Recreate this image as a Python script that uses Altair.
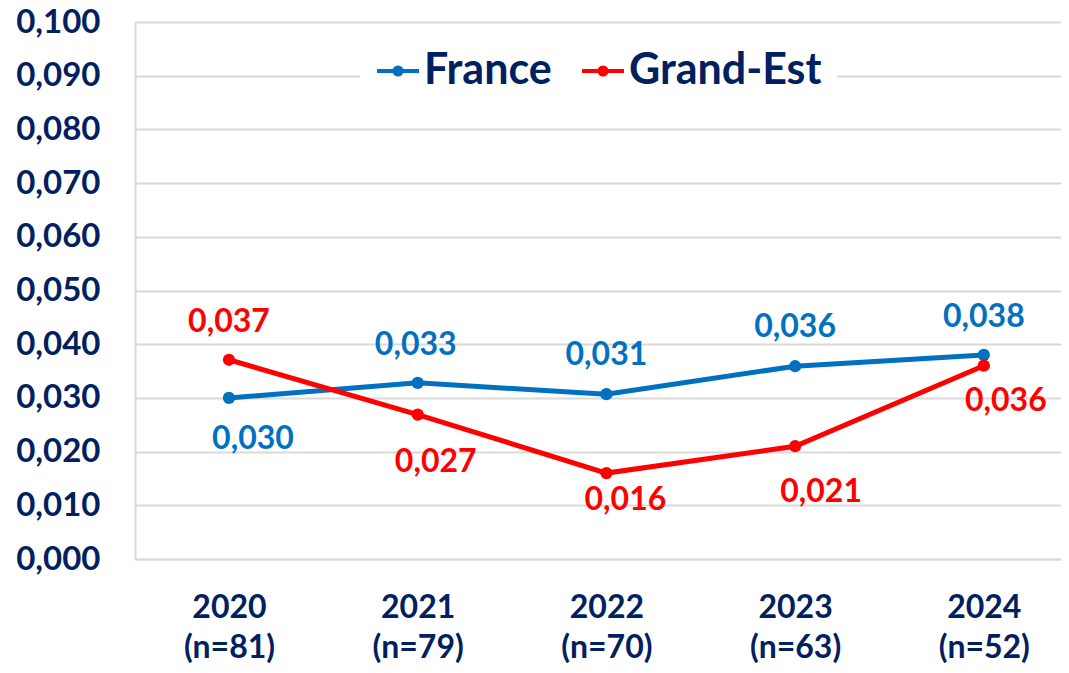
import altair as alt
import pandas as pd

years = [2020, 2021, 2022, 2023, 2024]
n_counts = ["(n=81)", "(n=79)", "(n=70)", "(n=63)", "(n=52)"]
france = [0.0300, 0.0328, 0.0307, 0.0359, 0.0380]
grand_est = [0.0371, 0.0269, 0.0160, 0.0210, 0.0360]
series_names = ["France", "Grand-Est"]
series_colors = ["#0070C0", "#FF0000"]
y_ticks = [i / 100 for i in range(11)]

# label offsets (pixels) relative to each point
france_dx = [24, -2, 0, 0, 0]
france_dy = [51, -28, -29, -29, -28]
ge_dx = [0, 18, 19, 26, 22]
ge_dy = [-28, 57, 37, 56, 45]

NAVY = "#002060"
FONT = "Lato"

rows = []
for s, vals, dxs, dys in [("France", france, france_dx, france_dy),
                          ("Grand-Est", grand_est, ge_dx, ge_dy)]:
    for y, v, dx, dy in zip(years, vals, dxs, dys):
        rows.append({"year": y, "series": s, "value": v,
                     "label": f"{v:.3f}".replace(".", ","), "dx": dx, "dy": dy})
df = pd.DataFrame(rows)
df["idx"] = range(len(df))

n_expr = " : ".join(f"datum.value == {y} ? '{n}'" for y, n in zip(years, n_counts)) + " : ''"
x_label_expr = f"[format(datum.value, 'd'), {n_expr}]"

color_scale = alt.Scale(domain=series_names, range=series_colors)
legend_path = ("M-1,0L1,0M-0.17,0A0.17,0.17,0,1,1,0.17,0"
               "A0.17,0.17,0,1,1,-0.17,0Z")

x_enc = alt.X("year:Q",
              scale=alt.Scale(domain=[2019.502, 2024.409], nice=False, zero=False),
              axis=alt.Axis(values=years, labelExpr=x_label_expr, title=None,
                            grid=False, ticks=False, domainColor="#d9d9d9",
                            domainWidth=2, labelFont=FONT, labelFontSize=32,
                            labelFontWeight="bold", labelColor=NAVY,
                            labelPadding=33, labelLineHeight=40,
                            labelFlush=False))
y_enc = alt.Y("value:Q",
              scale=alt.Scale(domain=[0, 0.1], nice=False),
              axis=alt.Axis(values=y_ticks,
                            labelExpr="replace(format(datum.value, '.3f'), '.', ',')",
                            title=None, ticks=False, grid=True,
                            gridColor="#d9d9d9", gridWidth=2,
                            domainColor="#d9d9d9", domainWidth=2,
                            labelFont=FONT, labelFontSize=33,
                            labelFontWeight="bold", labelColor=NAVY,
                            labelPadding=35))

color_enc = alt.Color("series:N", scale=color_scale,
                      sort=series_names,
                      legend=alt.Legend(orient="none", legendX=225, legendY=11,
                                        direction="horizontal", title=None,
                                        fillColor="white", padding=15,
                                        symbolType=legend_path, symbolSize=1764,
                                        symbolStrokeWidth=4, symbolOpacity=1,
                                        labelFont=FONT, labelFontSize=43,
                                        labelFontWeight="bold", labelColor=NAVY,
                                        labelOffset=3, columnPadding=22,
                                        labelLimit=400))

base = alt.Chart(df)
lines = base.mark_line(strokeWidth=5).encode(x=x_enc, y=y_enc, color=color_enc,
                                             detail="series:N")
points = base.mark_point(filled=True, size=150, opacity=1).encode(
    x="year:Q", y="value:Q", color=alt.Color("series:N", scale=color_scale))

label_layers = []
for i, r in df.iterrows():
    col = series_colors[series_names.index(r["series"])]
    label_layers.append(
        base.transform_filter(f"datum.idx == {int(r['idx'])}")
        .mark_text(font=FONT, fontSize=32, fontWeight="bold", color=col,
                   baseline="alphabetic", align="center",
                   dx=int(r["dx"]), dy=int(r["dy"]))
        .encode(x="year:Q", y="value:Q", text="label:N")
    )

chart = alt.layer(lines, points, *label_layers).properties(
    width=926, height=537,
    autosize="none",
    padding={"left": 127, "top": 14, "right": 0, "bottom": 106},
).configure_view(stroke=None).configure(background="white")

chart.save("out.html", embed_options={"renderer": "svg", "actions": False})
